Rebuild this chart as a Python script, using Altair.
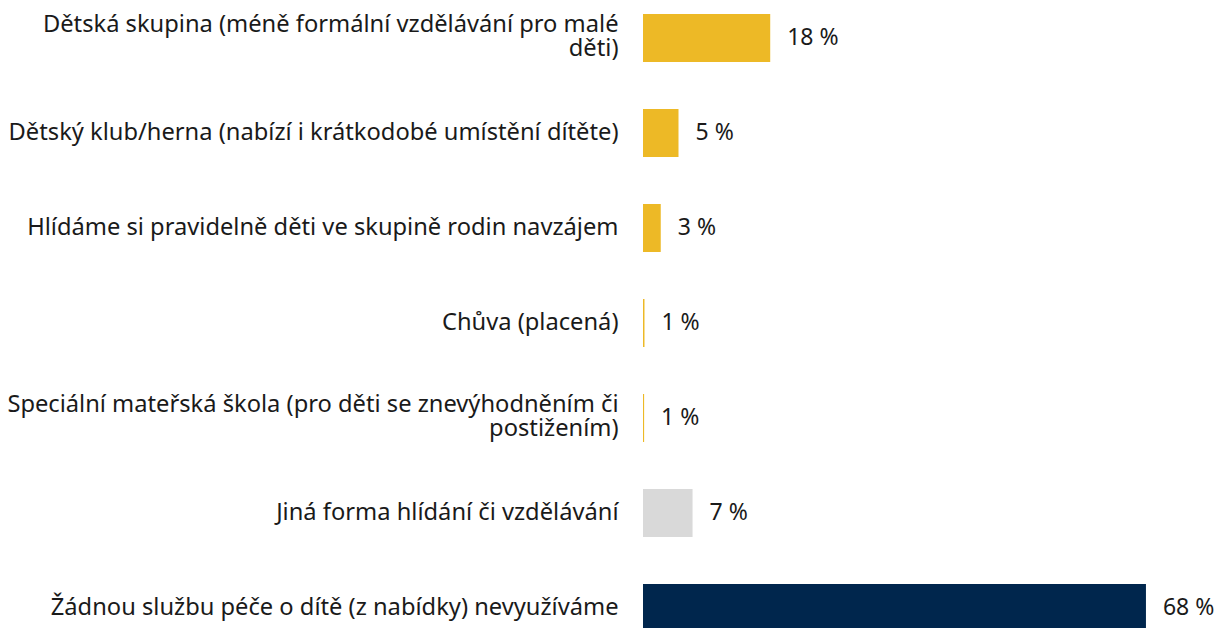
import altair as alt
import pandas as pd

categories = [
    "Dětská skupina (méně formální vzdělávání pro malé|děti)",
    "Dětský klub/herna (nabízí i krátkodobé umístění dítěte)",
    "Hlídáme si pravidelně děti ve skupině rodin navzájem",
    "Chůva (placená)",
    "Speciální mateřská škola (pro děti se znevýhodněním či|postižením)",
    "Jiná forma hlídání či vzdělávání",
    "Žádnou službu péče o dítě (z nabídky) nevyužíváme",
]
values = [17.2, 4.8, 2.4, 0.2, 0.15, 6.7, 68.0]
value_labels = ["18 %", "5 %", "3 %", "1 %", "1 %", "7 %", "68 %"]
groups = ["a", "a", "a", "a", "a", "b", "c"]
colors = ["#EDB926", "#D9D9D9", "#00264D"]

df = pd.DataFrame({"cat": categories, "val": values, "lab": value_labels, "grp": groups})

FONT = "Noto Sans"

y = alt.Y(
    "cat:N",
    sort=categories,
    title=None,
    scale=alt.Scale(paddingInner=0.495, paddingOuter=0.063),
    axis=alt.Axis(
        labelExpr="split(datum.label, '|')",
        labelFont=FONT,
        labelFontSize=23.7,
        labelColor="#1a1a1a",
        labelLimit=800,
        labelPadding=25,
        labelLineHeight=24,
        labelOffset={"condition": {"test": "indexof(datum.label, '|') >= 0", "value": -13}, "value": 0},
        ticks=False,
        domain=False,
    ),
)

x = alt.X("val:Q", title=None, axis=None, scale=alt.Scale(domain=[0, 77.2], nice=False))

base = alt.Chart(df).encode(y=y, x=x)

bars = base.mark_bar().encode(
    color=alt.Color("grp:N", scale=alt.Scale(domain=["a", "b", "c"], range=colors), legend=None)
)
text = base.mark_text(align="left", baseline="middle", dx=17, font=FONT, fontSize=23, color="#1a1a1a").encode(
    text="lab:N"
)

chart = (
    (bars + text)
    .properties(
        width=571,
        height=630,
        padding={"left": 635, "top": 0, "right": 0, "bottom": 0},
        autosize=alt.AutoSizeParams(type="none"),
    )
    .configure_view(stroke=None)
    .configure_axis(grid=False)
)

chart.save("out.html", embed_options={"renderer": "svg", "actions": False})
